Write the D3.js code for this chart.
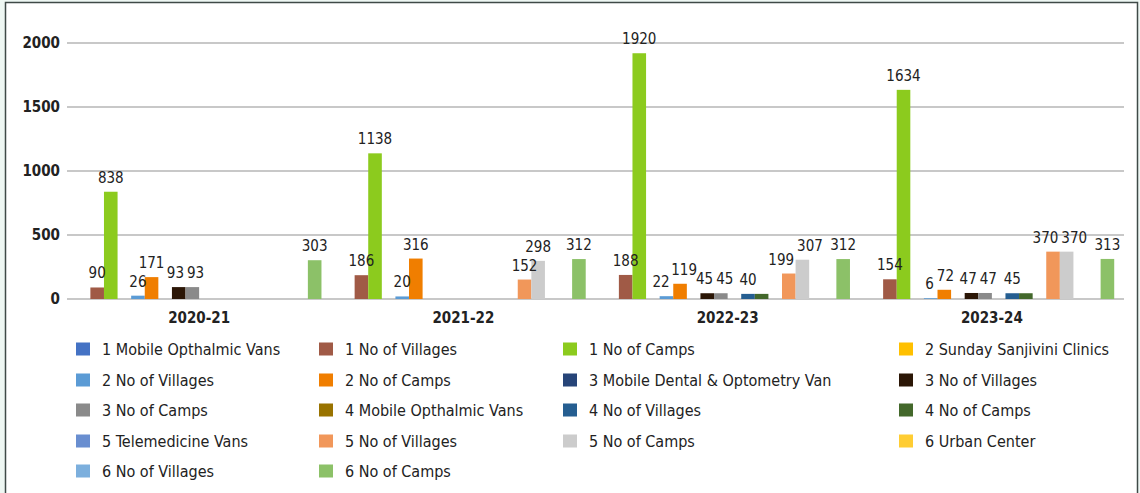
<!DOCTYPE html>
<html>
<head>
<meta charset="utf-8">
<script src="https://cdn.jsdelivr.net/npm/d3@7"></script>
<style>
  html, body { margin: 0; padding: 0; background: #eef7f3; }
  svg { display: block; }
  text { font-family: "DejaVu Sans Condensed", "DejaVu Sans", sans-serif; fill: #222; }
</style>
</head>
<body>
<div id="chart"></div>
<script>
const years = ['2020-21', '2021-22', '2022-23', '2023-24'];

const series = [
  '1 Mobile Opthalmic Vans', '1 No of Villages', '1 No of Camps', '2 Sunday Sanjivini Clinics',
  '2 No of Villages', '2 No of Camps', '3 Mobile Dental & Optometry Van', '3 No of Villages',
  '3 No of Camps', '4 Mobile Opthalmic Vans', '4 No of Villages', '4 No of Camps',
  '5 Telemedicine Vans', '5 No of Villages', '5 No of Camps', '6 Urban Center',
  '6 No of Villages', '6 No of Camps'
];

const colors = [
  '#4472c4', '#a05a46', '#8ccb1e', '#ffc000',
  '#5b9bd5', '#f07e00', '#264478', '#2b1606',
  '#8a8a8a', '#997300', '#255e91', '#43682b',
  '#698ed0', '#f1975a', '#cccccc', '#ffcd33',
  '#7cafdd', '#8cc168'
];

// one row per series, one value per year (null = no bar)
const values = [
  [null, null, null, null],
  [90, 186, 188, 154],
  [838, 1138, 1920, 1634],
  [null, null, null, null],
  [26, 20, 22, 6],
  [171, 316, 119, 72],
  [null, null, null, null],
  [93, null, 45, 47],
  [93, null, 45, 47],
  [null, null, null, null],
  [null, null, 40, 45],
  [null, null, 40, 45],
  [null, null, null, null],
  [null, 152, 199, 370],
  [null, 298, 307, 370],
  [null, null, null, null],
  [null, null, null, null],
  [303, 312, 312, 313]
];

// series whose data labels are not shown
const unlabeled = ['4 No of Camps'];

const yTicks = [0, 500, 1000, 1500, 2000];

const W = 1140, H = 493;

const svg = d3.select('#chart').append('svg')
  .attr('width', W)
  .attr('height', H);

// framed white panel
svg.append('rect')
  .attr('x', 5.5).attr('y', 2.5)
  .attr('width', 1132).attr('height', 520)
  .attr('fill', '#fff')
  .attr('stroke', '#3f4a47')
  .attr('stroke-width', 1.5);

const x0 = d3.scaleBand()
  .domain(years)
  .range([67, 1124]);

const x1 = d3.scaleBand()
  .domain(series)
  .range([0, x0.bandwidth()])
  .paddingInner(0)
  .paddingOuter(0.72);

const y = d3.scaleLinear()
  .domain([0, 2000])
  .range([299, 43]);

const color = d3.scaleOrdinal().domain(series).range(colors);

// gridlines
svg.append('g')
  .selectAll('line')
  .data(yTicks)
  .enter().append('line')
  .attr('x1', 67).attr('x2', 1124)
  .attr('y1', d => y(d)).attr('y2', d => y(d))
  .attr('stroke', '#c8c8c8')
  .attr('stroke-width', 2);

// y tick labels
const yAxis = svg.append('g')
  .attr('transform', 'translate(60,0)')
  .call(d3.axisLeft(y).tickValues(yTicks).tickFormat(d3.format('d')).tickSize(0).tickPadding(0));
yAxis.select('.domain').remove();
yAxis.selectAll('text')
  .attr('font-size', 15)
  .attr('font-weight', 'bold')
  .style('font-family', '"DejaVu Sans Condensed", sans-serif')
  .attr('fill', '#222');

// bars
const points = [];
series.forEach((s, si) => {
  years.forEach((yr, yi) => {
    const v = values[si][yi];
    if (v != null) points.push({ s, yr, v });
  });
});

const groups = svg.append('g');

groups.selectAll('rect')
  .data(points)
  .enter().append('rect')
  .attr('x', d => x0(d.yr) + x1(d.s))
  .attr('y', d => y(d.v))
  .attr('width', x1.bandwidth())
  .attr('height', d => y(0) - y(d.v))
  .attr('fill', d => color(d.s));

const labels = groups.selectAll('text')
  .data(points.filter(d => !unlabeled.includes(d.s)))
  .enter().append('text')
  .attr('text-anchor', 'middle')
  .attr('font-size', 15)
  .text(d => d.v)
  .each(function (d) {
    d.lx = x0(d.yr) + x1(d.s) + x1.bandwidth() / 2;
    d.ly = y(d.v) - 9;
    d.w = this.getComputedTextLength();
  });

// push neighbouring labels apart when they collide, roughly like Excel does
years.forEach(yr => {
  const row = labels.data().filter(d => d.yr === yr).sort((a, b) => a.lx - b.lx);
  for (let i = 1; i < row.length; i++) {
    const a = row[i - 1], b = row[i];
    if (Math.abs(a.ly - b.ly) > 15) continue;
    const o = (a.lx + a.w / 2 + 3) - (b.lx - b.w / 2);
    if (o > 0) {
      a.lx -= o / 2;
      b.lx += o / 2;
    }
  }
});

labels
  .attr('x', d => d.lx)
  .attr('y', d => d.ly);

// category labels
const xAxis = svg.append('g')
  .attr('transform', `translate(0,${y(0)})`)
  .call(d3.axisBottom(x0).tickSize(0).tickPadding(13));
xAxis.select('.domain').remove();
xAxis.selectAll('text')
  .attr('font-size', 15)
  .attr('font-weight', 'bold')
  .style('font-family', '"DejaVu Sans Condensed", sans-serif')
  .attr('fill', '#222');

// legend, 4 columns
const colX = [76, 319, 563, 899];
const rowY = [349, 380, 410, 441, 471];

const legend = svg.append('g')
  .selectAll('g')
  .data(series)
  .enter().append('g')
  .attr('transform', (d, i) => `translate(${colX[i % 4]},${rowY[Math.floor(i / 4)]})`);

legend.append('rect')
  .attr('x', 0).attr('y', -6.5)
  .attr('width', 14).attr('height', 13)
  .attr('fill', d => color(d));

legend.append('text')
  .attr('x', 26)
  .attr('y', 0)
  .attr('dy', '0.35em')
  .attr('font-size', 16)
  .text(d => d);
</script>
</body>
</html>
